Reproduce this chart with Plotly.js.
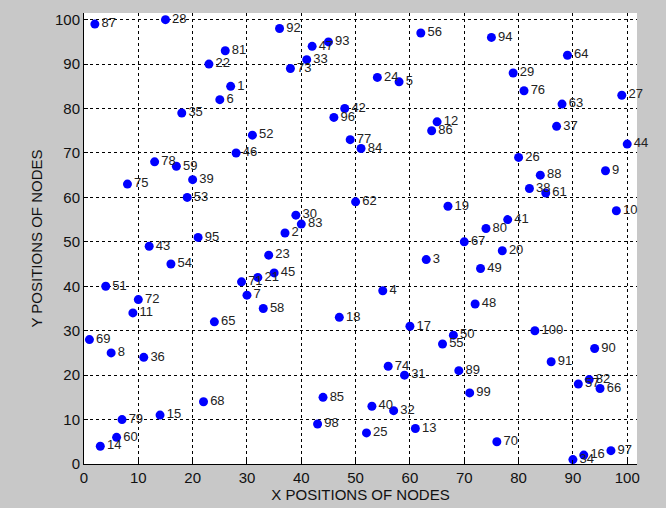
<!DOCTYPE html>
<html>
<head>
<meta charset="utf-8">
<script src="https://cdn.plot.ly/plotly-3.0.1.min.js"></script>
<style>html,body{margin:0;padding:0;background:#c8c8c8;}#chart{width:666px;height:508px;}</style>
</head>
<body>
<div id="chart"></div>
<script>
// Node ids and positions
const nodeIds = [1,2,3,4,5,6,7,8,9,10,11,12,13,14,15,16,17,18,19,20,21,22,23,24,25,26,27,28,29,30,31,32,33,34,35,36,37,38,39,40,41,42,43,44,45,46,47,48,49,50,51,52,53,54,55,56,57,58,59,60,61,62,63,64,65,66,67,68,69,70,71,72,73,74,75,76,77,78,79,80,81,82,83,84,85,86,87,88,89,90,91,92,93,94,95,96,97,98,99,100];
const xPositions = [27,37,63,55,58,25,30,5,96,98,9,65,61,3,14,92,60,47,67,77,32,23,34,54,52,80,99,15,79,39,59,57,41,90,18,11,87,82,20,53,78,48,12,100,35,28,42,72,73,68,4,31,19,16,66,62,91,33,17,6,85,50,88,89,24,95,70,22,1,76,29,10,38,56,8,81,49,13,7,74,26,93,40,51,44,64,2,84,69,94,86,36,45,75,21,46,97,43,71,83];
const yPositions = [85,52,46,39,86,82,38,25,66,57,34,77,8,4,11,2,31,33,58,48,42,90,47,87,7,69,83,100,88,56,20,12,91,1,79,24,76,62,64,13,55,80,49,72,43,70,94,36,44,29,40,74,60,45,27,97,18,35,67,6,61,59,81,92,32,17,50,14,28,5,41,37,89,22,63,84,73,68,10,53,93,19,54,71,15,75,99,65,21,26,23,98,95,96,51,78,3,9,16,30];
const tickValues = [0,10,20,30,40,50,60,70,80,90,100];
const xTitle = "X POSITIONS OF NODES";
const yTitle = "Y POSITIONS OF NODES";

const trace = {
  x: xPositions,
  y: yPositions,
  text: nodeIds.map(String),
  mode: "markers+text",
  type: "scatter",
  textposition: "middle right",
  cliponaxis: false,
  marker: {color: "#0000ff", size: 9},
  textfont: {family: "Liberation Sans, Arial, sans-serif", size: 13, color: "#222222"},
  hoverinfo: "none"
};

const axisCommon = {
  tickvals: tickValues,
  ticktext: tickValues.map(String),
  showgrid: true,
  gridcolor: "#000000",
  gridwidth: 1,
  griddash: "3px,3px",
  zeroline: false,
  showline: true,
  linecolor: "#000000",
  linewidth: 1,
  mirror: false,
  ticks: "inside",
  ticklen: 4,
  tickcolor: "#000000",
  tickfont: {family: "Liberation Sans Narrow, Liberation Sans, Arial, sans-serif", size: 15, color: "#111111"}
};

const layout = {
  width: 666,
  height: 508,
  margin: {l: 84, r: 29, t: 13, b: 44},
  paper_bgcolor: "#c8c8c8",
  plot_bgcolor: "#ffffff",
  showlegend: false,
  xaxis: Object.assign({}, axisCommon, {
    range: [0, 101.8],
    title: {text: xTitle, standoff: 3, font: {family: "Liberation Sans Narrow, Liberation Sans, Arial, sans-serif", size: 15, color: "#111111"}}
  }),
  yaxis: Object.assign({}, axisCommon, {
    range: [0, 101.5],
    title: {text: yTitle, standoff: 8, font: {family: "Liberation Sans Narrow, Liberation Sans, Arial, sans-serif", size: 15, color: "#111111"}}
  })
};

Plotly.newPlot("chart", [trace], layout, {displayModeBar: false, staticPlot: true});
</script>
</body>
</html>
